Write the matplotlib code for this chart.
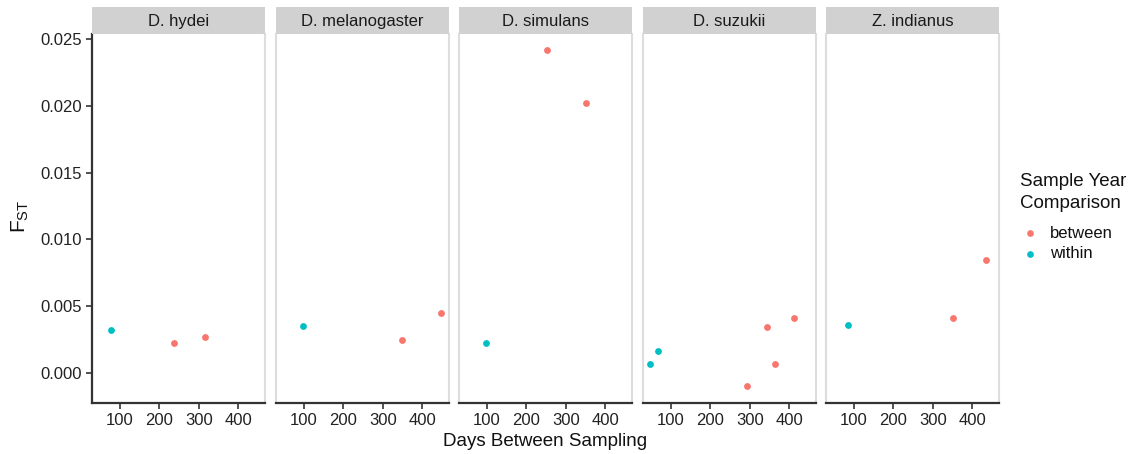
import matplotlib
matplotlib.use("Agg")
import matplotlib.pyplot as plt
from matplotlib.lines import Line2D

plt.rcParams["font.family"] = ["Liberation Sans", "DejaVu Sans"]

# especies (una faceta cada una)
species = ["D. hydei", "D. melanogaster", "D. simulans", "D. suzukii", "Z. indianus"]

# días entre muestreos y FST, por especie y tipo de comparación
within_days = {
    "D. hydei": [77],
    "D. melanogaster": [97],
    "D. simulans": [98],
    "D. suzukii": [48, 69],
    "Z. indianus": [85],
}
within_fst = {
    "D. hydei": [0.00322],
    "D. melanogaster": [0.00353],
    "D. simulans": [0.00225],
    "D. suzukii": [0.00065, 0.00163],
    "Z. indianus": [0.00358],
}
between_days = {
    "D. hydei": [238, 315],
    "D. melanogaster": [349, 447],
    "D. simulans": [252, 350],
    "D. suzukii": [293, 342, 363, 412],
    "Z. indianus": [351, 434],
}
between_fst = {
    "D. hydei": [0.00223, 0.00268],
    "D. melanogaster": [0.00248, 0.00446],
    "D. simulans": [0.02418, 0.02023],
    "D. suzukii": [-0.00100, 0.00345, 0.00068, 0.00413],
    "Z. indianus": [0.00408, 0.00848],
}

x_ticks = [100, 200, 300, 400]
y_ticks = [0.000, 0.005, 0.010, 0.015, 0.020, 0.025]

legend_labels = ["between", "within"]

COL_BETWEEN = "#F8766D"
COL_WITHIN = "#00BFC4"
AXIS_COL = "#333333"
BORDER_COL = "#DDDDDD"
STRIP_COL = "#D1D1D1"

W, H = 1135, 454
fig = plt.figure(figsize=(W / 100, H / 100), dpi=100)

lefts = [92, 276, 459, 643, 826]
pw = 173
top, bottom = 34, 403
strip_top = 7

for i, (sp, lx) in enumerate(zip(species, lefts)):
    ax = fig.add_axes([lx / W, 1 - bottom / H, pw / W, (bottom - top) / H])
    ax.scatter(between_days[sp], between_fst[sp], s=24, color=COL_BETWEEN,
               linewidths=0, zorder=3)
    ax.scatter(within_days[sp], within_fst[sp], s=24, color=COL_WITHIN,
               linewidths=0, zorder=3)
    ax.set_xlim(30, 467)
    ax.set_ylim(-0.00227, 0.0254)
    ax.set_xticks(x_ticks)
    ax.set_yticks(y_ticks)

    for side in ["left", "right", "top"]:
        ax.spines[side].set_color(BORDER_COL)
        ax.spines[side].set_linewidth(1.5)
    ax.spines["top"].set_visible(False)
    ax.spines["bottom"].set_color(AXIS_COL)
    ax.spines["bottom"].set_linewidth(1.6)

    ax.tick_params(axis="x", length=4, width=1.2, color=AXIS_COL,
                   labelsize=12, labelcolor="#222222", pad=3)
    if i == 0:
        ax.spines["left"].set_color(AXIS_COL)
        ax.spines["left"].set_linewidth(1.6)
        ax.tick_params(axis="y", length=4, width=1.2, color=AXIS_COL,
                       labelsize=12, labelcolor="#222222", pad=3)
        ax.set_yticklabels([f"{v:.3f}" for v in y_ticks])
    else:
        ax.tick_params(axis="y", length=0, labelleft=False)

    # cabecera de la faceta
    sax = fig.add_axes([lx / W, 1 - top / H, pw / W, (top - strip_top) / H])
    sax.set_facecolor(STRIP_COL)
    sax.set_xticks([])
    sax.set_yticks([])
    for s in sax.spines.values():
        s.set_visible(False)
    sax.text(0.5, 0.48, sp, ha="center", va="center", fontsize=12,
             color="#1A1A1A", transform=sax.transAxes)

fig.text(545 / W, 1 - 441 / H, "Days Between Sampling", ha="center",
         va="center", fontsize=13.5, color="#111111")
fig.text(20 / W, 1 - 216 / H, r"F$_{\mathregular{ST}}$", ha="center",
         va="center", rotation=90, fontsize=15, color="#111111")

# leyenda colocada a mano
fig.text(1020 / W, 1 - 182 / H, "Sample Year", ha="left", va="center",
         fontsize=13.5, color="#111111")
fig.text(1020 / W, 1 - 203 / H, "Comparison", ha="left", va="center",
         fontsize=13.5, color="#111111")
for lab, col, yy in zip(legend_labels, [COL_BETWEEN, COL_WITHIN], [233, 254]):
    fig.add_artist(Line2D([1030 / W], [1 - yy / H], transform=fig.transFigure,
                          marker="o", linestyle="", color=col,
                          markersize=4.8, markeredgewidth=0))
    fig.text(1050 / W, 1 - yy / H, lab, ha="left", va="center",
             fontsize=12, color="#111111")

fig.savefig("out.png", dpi=100)
